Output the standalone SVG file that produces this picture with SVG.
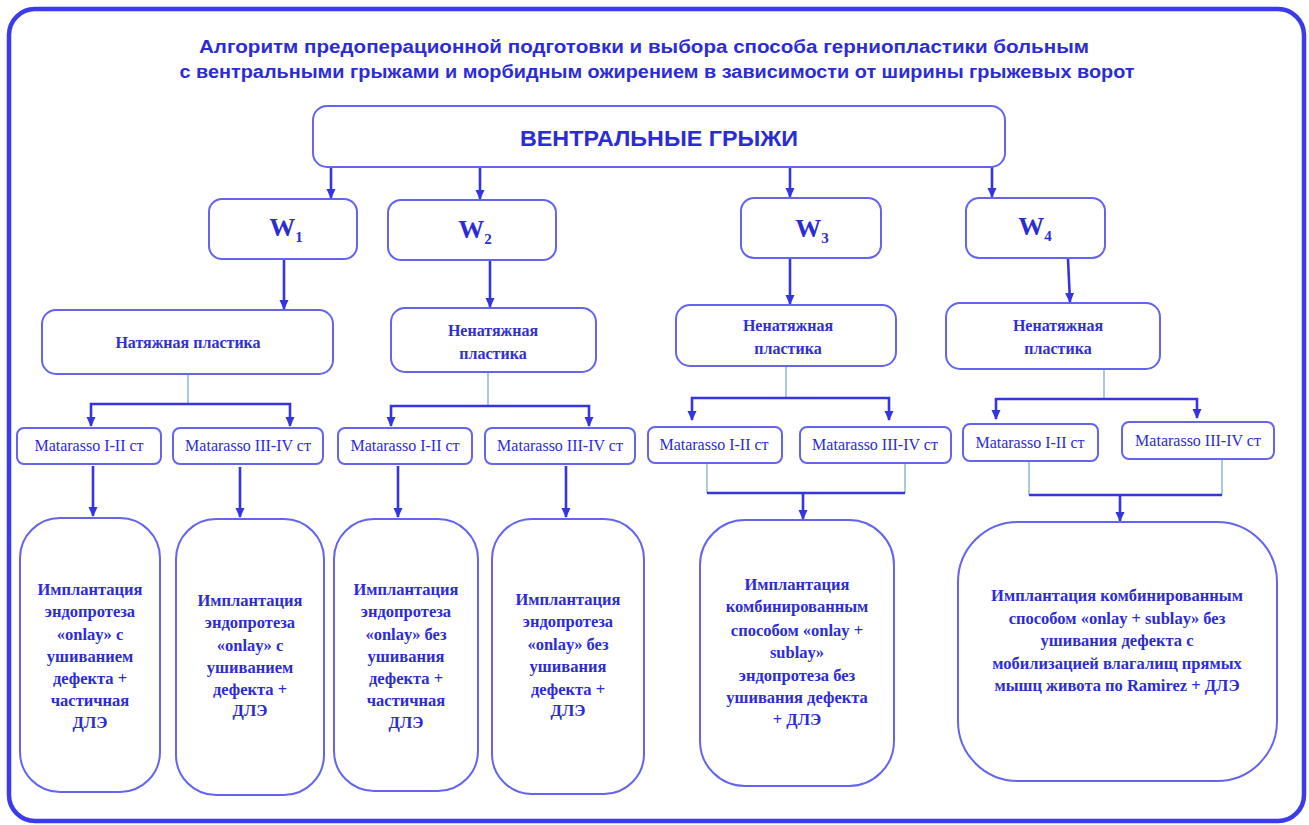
<svg xmlns="http://www.w3.org/2000/svg" width="1309" height="825" viewBox="0 0 1309 825">
<defs>
<marker id="ah" markerUnits="userSpaceOnUse" markerWidth="10" markerHeight="10" viewBox="0 0 10 10" refX="9" refY="5" orient="auto-start-reverse">
<path d="M0,0.5 L10,5 L0,9.5 Z" fill="#3535e0"/>
</marker>
<style>
.frame{fill:#fff;stroke:#3b3bec;stroke-width:4.5}
.box{fill:#fff;stroke:#6464ee;stroke-width:2}
.arr{stroke:#3535e0;stroke-width:2.6;fill:none}
.thin{stroke:#8fb6d8;stroke-width:1.5;fill:none}
.title{font-family:"Liberation Sans Narrow","Liberation Sans",Arial,sans-serif;font-weight:bold;font-size:18px;fill:#2c2cd6;text-anchor:middle}
.main{font-family:"Liberation Sans Narrow","Liberation Sans",Arial,sans-serif;font-weight:bold;font-size:22px;fill:#2c2cd6;text-anchor:middle}
.w{font-family:"Liberation Serif","Times New Roman",serif;font-weight:bold;font-size:26px;fill:#2c2cd6;text-anchor:middle}
.w tspan{font-size:15px}
.pl{font-family:"Liberation Serif","Times New Roman",serif;font-weight:bold;font-size:16px;fill:#3030d0;text-anchor:middle}
.mt{font-family:"Liberation Serif","Times New Roman",serif;font-size:16px;fill:#2c2cd6;text-anchor:middle}
.bt{font-family:"Liberation Serif","Times New Roman",serif;font-weight:bold;font-size:16.5px;fill:#2c2cd6;text-anchor:middle}
</style>
</defs>
<rect x="0" y="0" width="1309" height="825" fill="#fff"/>
<rect class="frame" x="9" y="9" width="1295" height="812" rx="26"/>

<g id="title">
<text class="title" x="644" y="53" textLength="890" lengthAdjust="spacingAndGlyphs">Алгоритм предоперационной  подготовки и выбора  способа герниопластики больным</text>
<text class="title" x="657" y="78" textLength="955" lengthAdjust="spacingAndGlyphs">с вентральными  грыжами и морбидным  ожирением в зависимости от ширины  грыжевых ворот</text>
</g>

<g id="connectors">
<line class="arr" x1="331" y1="167" x2="331" y2="198" marker-end="url(#ah)"/>
<line class="arr" x1="480" y1="167" x2="480" y2="199" marker-end="url(#ah)"/>
<line class="arr" x1="790" y1="167" x2="790" y2="197" marker-end="url(#ah)"/>
<line class="arr" x1="992" y1="167" x2="992" y2="197" marker-end="url(#ah)"/>

<line class="arr" x1="284" y1="260" x2="284" y2="309" marker-end="url(#ah)"/>
<line class="arr" x1="490" y1="261" x2="490" y2="307" marker-end="url(#ah)"/>
<line class="arr" x1="790" y1="259" x2="790" y2="304" marker-end="url(#ah)"/>
<line class="arr" x1="1068" y1="259" x2="1070" y2="302" marker-end="url(#ah)"/>

<line class="thin" x1="188" y1="374" x2="188" y2="404"/>
<path class="arr" d="M91,426 L91,404 L290,404 L290,426" marker-start="url(#ah)" marker-end="url(#ah)"/>
<line class="thin" x1="488" y1="372" x2="488" y2="406"/>
<path class="arr" d="M391,426 L391,406 L589,406 L589,426" marker-start="url(#ah)" marker-end="url(#ah)"/>
<line class="thin" x1="786" y1="366" x2="786" y2="398"/>
<path class="arr" d="M692,420 L692,398 L889,398 L889,420" marker-start="url(#ah)" marker-end="url(#ah)"/>
<line class="thin" x1="1104" y1="369" x2="1104" y2="399"/>
<path class="arr" d="M996,419 L996,399 L1197,399 L1197,418" marker-start="url(#ah)" marker-end="url(#ah)"/>

<line class="arr" x1="93" y1="466" x2="93" y2="516" marker-end="url(#ah)"/>
<line class="arr" x1="240" y1="467" x2="240" y2="517" marker-end="url(#ah)"/>
<line class="arr" x1="398" y1="466" x2="398" y2="517" marker-end="url(#ah)"/>
<line class="arr" x1="566" y1="466" x2="566" y2="517" marker-end="url(#ah)"/>

<line class="thin" x1="707" y1="463" x2="707" y2="493"/>
<line class="thin" x1="905" y1="463" x2="905" y2="493"/>
<line class="arr" x1="707" y1="493" x2="905" y2="493"/>
<line class="arr" x1="803" y1="493" x2="803" y2="519" marker-end="url(#ah)"/>

<line class="thin" x1="1029" y1="461" x2="1029" y2="495"/>
<line class="thin" x1="1222" y1="459" x2="1222" y2="495"/>
<line class="arr" x1="1029" y1="495" x2="1222" y2="495"/>
<line class="arr" x1="1120" y1="495" x2="1120" y2="521" marker-end="url(#ah)"/>
</g>

<g id="n-main">
<rect class="box" x="313" y="106" width="692" height="61" rx="14"/>
<text class="main" x="659" y="146" textLength="278" lengthAdjust="spacingAndGlyphs">ВЕНТРАЛЬНЫЕ ГРЫЖИ</text>
</g>

<g id="n-w1"><rect class="box" x="209" y="199" width="148" height="60" rx="13"/><text class="w" x="286" y="236">W<tspan dy="6">1</tspan></text></g>
<g id="n-w2"><rect class="box" x="388" y="200" width="168" height="60" rx="13"/><text class="w" x="475" y="238">W<tspan dy="6">2</tspan></text></g>
<g id="n-w3"><rect class="box" x="741" y="198" width="140" height="60" rx="13"/><text class="w" x="812" y="237">W<tspan dy="6">3</tspan></text></g>
<g id="n-w4"><rect class="box" x="966" y="198" width="139" height="60" rx="13"/><text class="w" x="1035" y="235">W<tspan dy="6">4</tspan></text></g>

<g id="n-p1"><rect class="box" x="42" y="310" width="291" height="64" rx="14"/><text class="pl" x="188" y="348">Натяжная пластика</text></g>
<g id="n-p2"><rect class="box" x="391" y="308" width="205" height="64" rx="14"/><text class="pl" x="493" y="336">Ненатяжная</text><text class="pl" x="493" y="359">пластика</text></g>
<g id="n-p3"><rect class="box" x="676" y="305" width="220" height="61" rx="14"/><text class="pl" x="788" y="331">Ненатяжная</text><text class="pl" x="788" y="354">пластика</text></g>
<g id="n-p4"><rect class="box" x="946" y="303" width="214" height="66" rx="14"/><text class="pl" x="1058" y="331">Ненатяжная</text><text class="pl" x="1058" y="354">пластика</text></g>

<g id="n-m1a"><rect class="box" x="17" y="428" width="144" height="36" rx="7"/><text class="mt" x="89" y="451">Matarasso I-II ст</text></g>
<g id="n-m1b"><rect class="box" x="173" y="428" width="150" height="36" rx="7"/><text class="mt" x="248" y="451">Matarasso III-IV ст</text></g>
<g id="n-m2a"><rect class="box" x="338" y="428" width="134" height="36" rx="7"/><text class="mt" x="405" y="451">Matarasso I-II ст</text></g>
<g id="n-m2b"><rect class="box" x="485" y="428" width="150" height="36" rx="7"/><text class="mt" x="560" y="451">Matarasso III-IV ст</text></g>
<g id="n-m3a"><rect class="box" x="648" y="427" width="134" height="36" rx="7"/><text class="mt" x="714" y="450">Matarasso I-II ст</text></g>
<g id="n-m3b"><rect class="box" x="800" y="427" width="151" height="36" rx="7"/><text class="mt" x="875" y="450">Matarasso III-IV ст</text></g>
<g id="n-m4a"><rect class="box" x="963" y="424" width="135" height="37" rx="7"/><text class="mt" x="1030" y="448">Matarasso I-II ст</text></g>
<g id="n-m4b"><rect class="box" x="1122" y="422" width="152" height="37" rx="7"/><text class="mt" x="1198" y="446">Matarasso III-IV ст</text></g>

<g id="n-b1"><rect class="box" x="20" y="518" width="140" height="274" rx="40"/>
<text class="bt" x="90" y="595">Имплантация</text><text class="bt" x="90" y="617">эндопротеза</text><text class="bt" x="90" y="640">«onlay» с</text><text class="bt" x="90" y="662">ушиванием</text><text class="bt" x="90" y="684">дефекта +</text><text class="bt" x="90" y="706">частичная</text><text class="bt" x="90" y="728">ДЛЭ</text></g>
<g id="n-b2"><rect class="box" x="176" y="519" width="148" height="276" rx="40"/>
<text class="bt" x="250" y="606">Имплантация</text><text class="bt" x="250" y="628">эндопротеза</text><text class="bt" x="250" y="651">«onlay» с</text><text class="bt" x="250" y="673">ушиванием</text><text class="bt" x="250" y="695">дефекта  +</text><text class="bt" x="250" y="716">ДЛЭ</text></g>
<g id="n-b3"><rect class="box" x="334" y="519" width="144" height="272" rx="40"/>
<text class="bt" x="406" y="595">Имплантация</text><text class="bt" x="406" y="617">эндопротеза</text><text class="bt" x="406" y="640">«onlay» без</text><text class="bt" x="406" y="662">ушивания</text><text class="bt" x="406" y="684">дефекта  +</text><text class="bt" x="406" y="706">частичная</text><text class="bt" x="406" y="728">ДЛЭ</text></g>
<g id="n-b4"><rect class="box" x="492" y="519" width="152" height="275" rx="40"/>
<text class="bt" x="568" y="605">Имплантация</text><text class="bt" x="568" y="627">эндопротеза</text><text class="bt" x="568" y="650">«onlay» без</text><text class="bt" x="568" y="672">ушивания</text><text class="bt" x="568" y="695">дефекта  +</text><text class="bt" x="568" y="716">ДЛЭ</text></g>
<g id="n-b5"><rect class="box" x="700" y="520" width="194" height="266" rx="45"/>
<text class="bt" x="797" y="590">Имплантация</text><text class="bt" x="797" y="612">комбинированным</text><text class="bt" x="797" y="636">способом «onlay +</text><text class="bt" x="797" y="658">sublay»</text><text class="bt" x="797" y="681">эндопротеза без</text><text class="bt" x="797" y="703">ушивания дефекта</text><text class="bt" x="797" y="725">+ ДЛЭ</text></g>
<g id="n-b6"><rect class="box" x="958" y="522" width="319" height="259" rx="60"/>
<text class="bt" x="1117" y="601">Имплантация комбинированным</text><text class="bt" x="1117" y="624">способом «onlay + sublay» без</text><text class="bt" x="1117" y="646">ушивания дефекта с</text><text class="bt" x="1117" y="669">мобилизацией влагалищ прямых</text><text class="bt" x="1117" y="691">мышц живота по Ramirez + ДЛЭ</text></g>
</svg>
